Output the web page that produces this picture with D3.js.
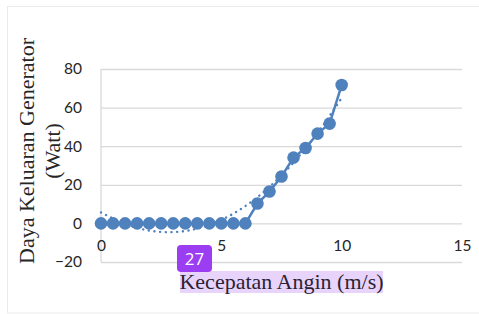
<!DOCTYPE html>
<html>
<head>
<meta charset="utf-8">
<script src="https://cdn.jsdelivr.net/npm/d3@7"></script>
<style>
  body { margin: 0; background: #fff; }
  svg { display: block; }
</style>
</head>
<body>
<svg id="chart" width="479" height="314"></svg>
<script>
// wind speed (m/s) and generator output (W)
const speeds = [0, 0.5, 1, 1.5, 2, 2.5, 3, 3.5, 4, 4.5, 5, 5.5, 6, 6.5, 7, 7.5, 8, 8.5, 9, 9.5, 10];
const power = [0, 0, 0, 0, 0, 0, 0, 0, 0, 0, 0, 0, 0, 10.3, 16.5, 24.3, 34.1, 39.1, 46.5, 51.7, 71.7];

// dotted trendline
const trendX = [0, 1, 2, 3, 4, 5, 6, 7, 8, 9, 10];
const trendY = [5.7, -0.3, -3.7, -4.5, -2.7, 1.8, 9.0, 18.9, 31.5, 46.9, 65];

const xTicks = [0, 5, 10, 15];
const yTicks = [-20, 0, 20, 40, 60, 80];

const blue = '#4f81bd';
const svg = d3.select('#chart');

// outer chart border
svg.append('rect')
  .attr('x', 7.5).attr('y', 6.5)
  .attr('width', 490).attr('height', 306.5)
  .attr('fill', 'none')
  .attr('stroke', '#ebebeb');

const x = d3.scaleLinear().domain([0, 15]).range([101, 462]);
const y = d3.scaleLinear().domain([-20, 80]).range([262, 69]);

// horizontal gridlines + y labels
const yAxis = svg.append('g')
  .attr('transform', `translate(${x(0)},0)`)
  .call(d3.axisLeft(y).tickValues(yTicks).tickSize(-(x(15) - x(0))).tickPadding(19));
yAxis.select('.domain').remove();
yAxis.selectAll('.tick line').attr('stroke', '#d9d9d9').attr('stroke-width', 1.3);
yAxis.selectAll('.tick text')
  .attr('fill', '#262626')
  .style('font-family', 'Lato, "Open Sans", sans-serif')
  .style('font-size', '15.5px');

// vertical axis line
svg.append('line')
  .attr('x1', x(0)).attr('x2', x(0))
  .attr('y1', y(80)).attr('y2', y(-20))
  .attr('stroke', '#d9d9d9').attr('stroke-width', 1.3);

// x labels sit at the zero line
const xAxis = svg.append('g')
  .attr('transform', `translate(0,${y(0)})`)
  .call(d3.axisBottom(x).tickValues(xTicks).tickSize(0).tickPadding(17));
xAxis.select('.domain').remove();
xAxis.selectAll('.tick text')
  .attr('fill', '#262626')
  .style('font-family', 'Lato, "Open Sans", sans-serif')
  .style('font-size', '15.5px');

// series line
const line = d3.line()
  .x((d, i) => x(speeds[i]))
  .y(d => y(d));

svg.append('path')
  .datum(power)
  .attr('d', line)
  .attr('fill', 'none')
  .attr('stroke', blue)
  .attr('stroke-width', 2.5);

svg.selectAll('circle.pt')
  .data(power)
  .enter()
  .append('circle')
    .attr('class', 'pt')
    .attr('cx', (d, i) => x(speeds[i]))
    .attr('cy', d => y(d))
    .attr('r', 6.3)
    .attr('fill', blue);

// trendline (dotted)
const trend = d3.line()
  .x((d, i) => x(trendX[i]))
  .y(d => y(d))
  .curve(d3.curveCatmullRom);

svg.append('path')
  .datum(trendY)
  .attr('d', trend)
  .attr('fill', 'none')
  .attr('stroke', blue)
  .attr('stroke-width', 2.4)
  .attr('stroke-linecap', 'round')
  .attr('stroke-dasharray', '0.1 5.6');

// y axis title (two lines, rotated)
const yTitle = svg.append('text')
  .attr('transform', 'translate(27,151) rotate(-90)')
  .attr('text-anchor', 'middle')
  .style('font-family', '"Liberation Serif", "Times New Roman", serif')
  .style('font-size', '22px')
  .attr('fill', '#262626');
yTitle.append('tspan').attr('x', 0).attr('dy', 7).text('Daya Keluaran Generator');
yTitle.append('tspan').attr('x', 0).attr('dy', 26).text('(Watt)');

// x axis title with highlight
const xTitle = svg.append('g');
xTitle.append('rect')
  .attr('x', 180).attr('y', 271)
  .attr('width', 203).attr('height', 22)
  .attr('fill', '#e8d4fb');
xTitle.append('text')
  .attr('x', 281.5).attr('y', 289)
  .attr('text-anchor', 'middle')
  .style('font-family', '"Liberation Serif", "Times New Roman", serif')
  .style('font-size', '22px')
  .attr('fill', '#2b2233')
  .text('Kecepatan Angin (m/s)');

// badge
const badge = svg.append('g');
badge.append('rect')
  .attr('x', 177).attr('y', 245)
  .attr('width', 35).attr('height', 27)
  .attr('rx', 4)
  .attr('fill', '#9b3df0');
badge.append('text')
  .attr('x', 194.5).attr('y', 264.5)
  .attr('text-anchor', 'middle')
  .style('font-family', '"Open Sans", sans-serif')
  .style('font-size', '17px')
  .attr('fill', '#fff')
  .text('27');
</script>
</body>
</html>
